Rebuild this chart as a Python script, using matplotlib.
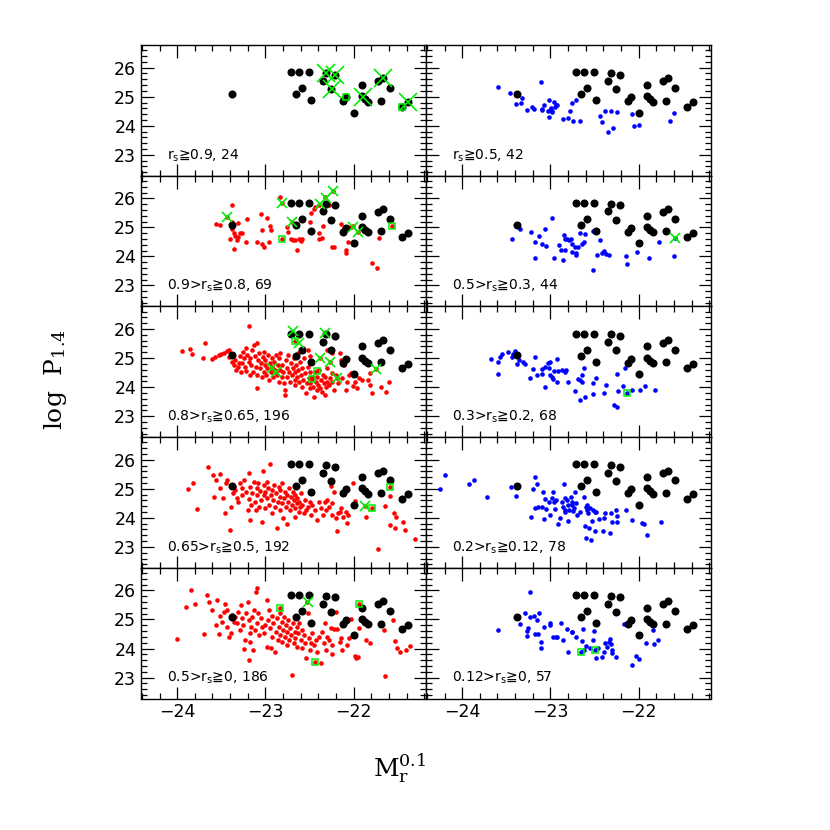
import matplotlib
matplotlib.use('Agg')
import matplotlib.pyplot as plt
from matplotlib.ticker import MultipleLocator

# reference sample (r_s >= 0.9), shown in every panel
ref_x = [-23.375, -22.71, -22.614, -22.511, -22.648, -22.583, -22.485, -22.345, -22.315, -22.208,
         -22.258, -22.117, -22.087, -21.992, -21.901, -21.909, -21.867, -21.841, -21.69, -21.72,
         -21.667, -21.591, -21.451, -21.383]
ref_y = [25.09, 25.84, 25.84, 25.84, 25.08, 25.29, 24.88, 25.55, 25.82, 25.76,
         25.27, 24.84, 24.98, 24.45, 25.40, 25.02, 24.91, 24.83, 24.86, 25.53,
         25.63, 25.29, 24.66, 24.81]

# right column (blue)
b1_x = [-23.59, -23.46, -23.39, -23.33, -23.32, -23.27, -23.21, -23.19, -23.11, -23.10, -23.09, -23.07,
        -23.02, -23.02, -23.00, -22.99, -22.98, -22.96, -22.95, -22.94, -22.92, -22.86, -22.80, -22.78,
        -22.75, -22.74, -22.71, -22.67, -22.44, -22.41, -22.38, -22.35, -22.31, -22.29, -22.24, -22.08,
        -22.05, -22.00, -21.65, -21.60, -22.985, -23.03]
b1_y = [25.32, 25.14, 24.75, 24.77, 24.95, 24.55, 24.66, 24.58, 25.52, 24.57, 24.55, 24.72,
        24.87, 24.29, 24.55, 24.60, 24.49, 24.83, 24.66, 24.72, 24.71, 24.23, 24.28, 24.50,
        24.80, 24.17, 24.87, 24.15, 24.32, 24.12, 24.51, 23.79, 24.51, 23.93, 24.47, 24.40,
        23.98, 24.04, 24.18, 24.43, 24.52, 24.52]

b2_x = [-23.44, -23.35, -23.22, -23.18, -23.17, -23.13, -23.10, -23.06, -23.05, -22.98, -22.96, -22.90,
        -22.88, -22.86, -22.85, -22.84, -22.83, -22.81, -22.79, -22.77, -22.76, -22.75, -22.72, -22.71,
        -22.71, -22.69, -22.66, -22.64, -22.62, -22.61, -22.52, -22.52, -22.50, -22.47, -22.44, -22.41,
        -22.39, -22.37, -22.34, -22.14, -22.13, -22.02, -21.88, -21.77, -21.60, -21.59]
b2_y = [24.60, 24.96, 24.83, 24.51, 23.96, 24.72, 24.43, 24.95, 24.35, 25.31, 23.93, 24.39,
        24.23, 23.88, 24.74, 24.60, 24.23, 24.59, 24.57, 24.59, 24.43, 24.14, 24.34, 24.13,
        24.05, 24.34, 24.80, 24.43, 24.51, 24.76, 23.54, 24.88, 24.84, 24.04, 24.57, 24.11,
        24.20, 24.08, 24.05, 24.00, 23.73, 24.14, 23.94, 24.51, 24.03, 24.63]

b3_x = [-23.67, -23.59, -23.59, -23.57, -23.55, -23.48, -23.44, -23.42, -23.40, -23.38, -23.36, -23.31,
        -23.29, -23.23, -23.20, -23.18, -23.15, -23.10, -23.09, -23.06, -23.06, -23.03, -23.02, -23.00,
        -23.00, -22.98, -22.97, -22.96, -22.93, -22.92, -22.91, -22.87, -22.84, -22.82, -22.80, -22.72,
        -22.69, -22.67, -22.66, -22.64, -22.64, -22.62, -22.61, -22.52, -22.52, -22.48, -22.39, -22.37,
        -22.28, -22.25, -22.25, -22.23, -22.18, -22.16, -22.13, -22.08, -21.98, -21.93, -21.81]
b3_y = [24.97, 24.85, 24.45, 25.05, 25.14, 25.20, 25.03, 25.13, 25.24, 24.79, 24.94, 24.88,
        24.80, 24.32, 24.63, 25.05, 24.43, 24.45, 24.63, 24.02, 24.71, 24.82, 24.65, 24.88,
        24.42, 24.36, 24.28, 24.56, 24.97, 24.16, 24.57, 24.59, 24.53, 24.59, 24.17, 23.86,
        24.28, 24.25, 23.56, 24.42, 24.19, 24.66, 23.65, 23.78, 24.13, 24.33, 23.81, 24.08,
        23.39, 23.32, 24.44, 23.88, 24.04, 24.66, 23.81, 23.90, 23.89, 24.05, 23.89]

b4_x = [-24.25, -24.19, -23.92, -23.87, -23.72, -23.45, -23.39, -23.22, -23.20, -23.18, -23.18, -23.15,
        -23.14, -23.10, -23.08, -23.07, -23.06, -23.05, -23.02, -23.00, -22.98, -22.97, -22.96, -22.94,
        -22.91, -22.89, -22.87, -22.85, -22.84, -22.83, -22.83, -22.81, -22.80, -22.80, -22.79, -22.77,
        -22.76, -22.74, -22.73, -22.72, -22.70, -22.67, -22.62, -22.61, -22.60, -22.60, -22.59, -22.58,
        -22.57, -22.56, -22.55, -22.54, -22.53, -22.52, -22.50, -22.49, -22.48, -22.45, -22.40, -22.39,
        -22.38, -22.33, -22.31, -22.30, -22.26, -22.25, -22.24, -22.14, -22.08, -21.96, -21.94, -21.90,
        -21.75, -22.71, -22.86, -22.95, -22.75]
b4_y = [24.99, 25.47, 25.16, 25.30, 24.73, 25.07, 24.75, 24.02, 25.00, 25.42, 24.33, 25.15,
        24.36, 24.39, 24.88, 23.97, 24.66, 24.29, 24.55, 24.10, 24.67, 24.90, 24.56, 24.61,
        23.78, 23.98, 24.56, 25.16, 24.27, 24.67, 24.21, 24.61, 24.44, 23.90, 24.27, 24.71,
        24.44, 24.24, 24.33, 24.89, 24.10, 24.21, 24.73, 23.72, 23.32, 24.39, 24.27, 24.44,
        24.16, 23.64, 24.33, 23.24, 23.89, 24.27, 24.21, 23.55, 24.21, 23.95, 23.55, 24.00,
        24.16, 23.49, 24.18, 23.84, 24.27, 24.06, 23.84, 24.27, 23.93, 23.81, 23.79, 23.40,
        23.86, 24.50, 24.39, 24.29, 24.56]

b5_x = [-23.59, -23.34, -23.29, -23.27, -23.27, -23.25, -23.23, -23.19, -23.17, -23.15, -23.14, -23.13,
        -23.11, -23.11, -23.07, -23.00, -23.00, -22.97, -22.94, -22.92, -22.88, -22.86, -22.81, -22.80,
        -22.76, -22.75, -22.71, -22.65, -22.64, -22.63, -22.62, -22.60, -22.55, -22.52, -22.51, -22.49,
        -22.48, -22.46, -22.41, -22.39, -22.38, -22.36, -22.34, -22.33, -22.31, -22.30, -22.30, -22.26,
        -22.17, -22.07, -22.03, -22.00, -21.92, -21.84, -21.83, -21.78, -23.23]
b5_y = [24.64, 24.85, 25.21, 24.61, 24.44, 24.72, 25.10, 25.13, 24.50, 24.98, 24.50, 25.21,
        24.24, 24.01, 24.75, 24.89, 24.81, 24.41, 24.39, 24.39, 24.87, 24.29, 24.69, 23.87,
        24.58, 24.56, 24.39, 23.87, 24.27, 24.66, 23.95, 24.09, 24.01, 24.29, 24.60, 23.95,
        23.69, 24.01, 23.72, 23.89, 24.18, 24.04, 24.24, 24.33, 24.15, 23.95, 23.84, 23.70,
        24.83, 23.42, 23.74, 23.63, 24.20, 24.64, 24.14, 24.29, 25.95]

# left column (red)
r2_x = [-23.56, -23.52, -23.44, -23.38, -23.38, -23.38, -23.36, -23.40, -23.36, -23.34, -23.32, -23.31,
        -23.31, -23.29, -23.27, -23.22, -23.21, -23.09, -23.05, -23.04, -23.04, -23.02, -22.98, -22.96,
        -22.95, -22.94, -22.84, -22.81, -22.81, -22.76, -22.74, -22.71, -22.70, -22.69, -22.66, -22.64,
        -22.62, -22.60, -22.58, -22.50, -22.48, -22.45, -22.44, -22.39, -22.39, -22.39, -22.36, -22.35,
        -22.32, -22.28, -22.23, -22.25, -22.22, -22.14, -22.11, -22.09, -22.09, -22.06, -22.03, -22.01,
        -21.95, -21.79, -21.73, -21.71, -21.57]
r2_y = [25.11, 25.08, 25.37, 25.77, 25.20, 24.94, 24.82, 24.59, 24.26, 24.71, 24.57, 24.68,
        25.14, 24.82, 24.80, 24.51, 25.29, 24.51, 25.45, 24.91, 24.43, 24.34, 25.31, 24.51,
        25.05, 24.91, 26.03, 25.85, 24.59, 25.00, 24.85, 24.59, 25.20, 24.58, 24.55, 24.22,
        24.59, 24.53, 24.59, 25.20, 25.48, 25.62, 25.69, 25.77, 24.80, 24.59, 24.63, 25.05,
        26.03, 25.77, 26.25, 24.34, 24.34, 25.12, 24.97, 24.22, 24.11, 24.51, 25.03, 25.05,
        24.85, 23.79, 23.60, 24.63, 25.05]

r3_x = [-23.94, -23.86, -23.83, -23.71, -23.69, -23.60, -23.57, -23.53, -23.50, -23.47, -23.44, -23.41,
        -23.41, -23.38, -23.36, -23.34, -23.33, -23.31, -23.30, -23.29, -23.28, -23.26, -23.25, -23.24,
        -23.23, -23.22, -23.22, -23.21, -23.19, -23.19, -23.18, -23.17, -23.16, -23.15, -23.14, -23.13,
        -23.12, -23.11, -23.10, -23.10, -23.09, -23.08, -23.07, -23.06, -23.05, -23.04, -23.03, -23.02,
        -23.02, -23.00, -23.00, -22.99, -22.98, -22.97, -22.96, -22.95, -22.94, -22.93, -22.92, -22.91,
        -22.90, -22.89, -22.88, -22.87, -22.86, -22.85, -22.85, -22.84, -22.83, -22.81, -22.81, -22.80,
        -22.79, -22.78, -22.78, -22.77, -22.76, -22.75, -22.74, -22.73, -22.72, -22.71, -22.70, -22.69,
        -22.68, -22.67, -22.66, -22.66, -22.65, -22.64, -22.63, -22.62, -22.61, -22.60, -22.59, -22.58,
        -22.57, -22.56, -22.55, -22.54, -22.53, -22.52, -22.51, -22.50, -22.49, -22.49, -22.47, -22.47,
        -22.46, -22.45, -22.44, -22.43, -22.42, -22.41, -22.40, -22.39, -22.38, -22.37, -22.36, -22.35,
        -22.34, -22.33, -22.32, -22.31, -22.30, -22.30, -22.28, -22.27, -22.25, -22.24, -22.22, -22.20,
        -22.18, -22.16, -22.14, -22.13, -22.11, -22.09, -22.07, -22.05, -22.03, -22.01, -21.98, -21.96,
        -21.94, -21.91, -21.84, -21.82, -21.79, -21.69, -21.63, -21.60, -21.82, -22.24, -22.30, -22.52,
        -22.57, -22.63, -22.50, -22.66, -22.41, -22.47, -22.92, -22.88, -22.19, -21.75, -22.38, -22.27]
r3_y = [25.26, 25.30, 25.13, 24.99, 25.53, 24.96, 25.03, 25.11, 25.14, 25.19, 25.24, 25.28,
        25.05, 24.88, 24.76, 24.94, 24.59, 24.71, 24.84, 25.07, 24.53, 24.82, 25.22, 24.99,
        24.71, 25.34, 24.57, 25.11, 26.10, 24.88, 24.42, 24.99, 24.76, 25.28, 24.53, 25.45,
        25.07, 24.71, 23.96, 25.51, 24.42, 24.94, 25.16, 24.65, 24.82, 24.36, 25.05, 24.53,
        25.22, 24.76, 24.94, 24.42, 24.65, 25.11, 24.25, 24.82, 24.53, 24.99, 24.71, 24.36,
        24.88, 24.59, 25.11, 24.42, 24.76, 24.19, 24.99, 24.59, 25.16, 24.36, 24.76, 24.53,
        24.13, 23.90, 23.73, 24.94, 24.65, 24.36, 25.11, 24.53, 24.19, 24.82, 24.42, 24.65,
        24.99, 24.25, 24.53, 24.08, 24.76, 24.36, 24.59, 24.19, 24.88, 24.42, 24.02, 24.65,
        24.25, 24.99, 24.48, 23.79, 24.13, 24.71, 24.31, 23.96, 24.53, 24.13, 24.82, 24.36,
        24.02, 23.67, 24.53, 24.19, 23.90, 24.36, 24.08, 24.59, 23.96, 24.25, 23.85, 24.42,
        24.13, 23.73, 24.36, 24.02, 24.19, 24.65, 24.08, 24.31, 24.48, 24.19, 23.90, 24.42,
        24.13, 25.16, 24.94, 24.31, 24.76, 23.90, 24.19, 24.42, 24.50, 24.04, 24.19, 23.96,
        24.31, 24.25, 24.25, 24.08, 23.79, 24.00, 23.85, 24.19, 24.48, 25.16, 25.28, 25.28,
        25.34, 25.16, 25.07, 25.60, 24.57, 24.27, 24.65, 24.53, 24.31, 24.62, 24.99, 24.88]

r4_x = [-23.88, -23.82, -23.77, -23.65, -23.59, -23.58, -23.56, -23.52, -23.51, -23.48, -23.46, -23.45,
        -23.43, -23.40, -23.39, -23.37, -23.36, -23.34, -23.32, -23.31, -23.29, -23.27, -23.26, -23.24,
        -23.22, -23.20, -23.19, -23.19, -23.17, -23.17, -23.16, -23.15, -23.13, -23.12, -23.11, -23.10,
        -23.09, -23.08, -23.07, -23.06, -23.05, -23.04, -23.03, -23.02, -23.02, -23.00, -23.00, -22.98,
        -22.98, -22.97, -22.96, -22.95, -22.94, -22.93, -22.92, -22.91, -22.90, -22.89, -22.88, -22.87,
        -22.86, -22.85, -22.84, -22.83, -22.83, -22.81, -22.81, -22.80, -22.79, -22.78, -22.77, -22.76,
        -22.75, -22.74, -22.73, -22.72, -22.71, -22.70, -22.69, -22.68, -22.67, -22.66, -22.66, -22.64,
        -22.64, -22.62, -22.62, -22.61, -22.60, -22.58, -22.56, -22.55, -22.54, -22.52, -22.50, -22.48,
        -22.47, -22.44, -22.41, -22.39, -22.37, -22.35, -22.33, -22.31, -22.30, -22.28, -22.26, -22.25,
        -22.24, -22.22, -22.20, -22.19, -22.18, -22.16, -22.14, -22.12, -22.09, -22.06, -22.01, -21.99,
        -21.86, -21.79, -21.72, -21.65, -21.59, -21.59, -21.54, -21.52, -21.53, -21.44, -21.42, -21.30,
        -21.59, -21.87, -22.07]
r4_y = [24.98, 25.19, 24.29, 25.76, 25.47, 24.73, 25.30, 25.50, 25.02, 24.67, 24.18, 25.19,
        25.30, 23.58, 24.39, 24.84, 25.07, 24.95, 24.67, 24.56, 25.19, 24.79, 25.02, 25.30,
        24.90, 24.27, 25.53, 24.64, 23.93, 25.07, 24.44, 24.84, 25.24, 24.56, 24.27, 25.02,
        24.79, 25.19, 24.39, 24.92, 24.61, 23.87, 25.61, 24.79, 25.13, 24.33, 24.90, 24.67,
        25.24, 25.02, 24.44, 25.85, 24.79, 24.16, 24.96, 24.61, 25.13, 24.39, 24.84, 23.64,
        24.56, 25.07, 24.27, 24.73, 24.96, 24.50, 25.19, 23.98, 24.67, 24.90, 24.39, 23.79,
        24.79, 24.56, 25.02, 24.27, 24.73, 24.44, 24.90, 24.61, 24.02, 24.33, 24.79, 24.50,
        24.67, 24.21, 24.56, 24.39, 24.84, 24.44, 24.16, 24.61, 24.27, 24.39, 24.56, 24.10,
        24.44, 24.27, 23.93, 24.56, 24.33, 24.10, 24.56, 24.27, 24.61, 24.39, 25.10, 24.10,
        24.50, 24.90, 23.98, 23.53, 24.16, 24.21, 24.33, 24.04, 24.21, 24.10, 25.21, 24.59,
        24.04, 24.33, 22.92, 24.41, 23.76, 24.75, 24.16, 24.04, 23.64, 23.87, 23.58, 23.26,
        25.05, 24.42, 23.81]

r5_x = [-24.00, -23.90, -23.84, -23.80, -23.70, -23.66, -23.64, -23.61, -23.56, -23.55, -23.53, -23.51,
        -23.49, -23.47, -23.46, -23.44, -23.43, -23.41, -23.39, -23.38, -23.36, -23.34, -23.32, -23.31,
        -23.29, -23.28, -23.27, -23.25, -23.24, -23.23, -23.22, -23.20, -23.19, -23.19, -23.18, -23.17,
        -23.16, -23.15, -23.14, -23.13, -23.12, -23.11, -23.10, -23.09, -23.08, -23.07, -23.05, -23.04,
        -23.02, -23.00, -22.98, -22.98, -22.97, -22.96, -22.95, -22.94, -22.93, -22.92, -22.91, -22.89,
        -22.88, -22.87, -22.86, -22.85, -22.84, -22.83, -22.83, -22.81, -22.81, -22.80, -22.79, -22.78,
        -22.77, -22.76, -22.75, -22.74, -22.73, -22.72, -22.71, -22.70, -22.69, -22.68, -22.67, -22.66,
        -22.66, -22.64, -22.64, -22.63, -22.62, -22.60, -22.59, -22.58, -22.56, -22.55, -22.54, -22.53,
        -22.52, -22.51, -22.50, -22.48, -22.47, -22.45, -22.44, -22.43, -22.41, -22.39, -22.37, -22.36,
        -22.34, -22.32, -22.31, -22.30, -22.28, -22.26, -22.25, -22.24, -22.22, -22.20, -22.19, -22.16,
        -22.14, -22.13, -22.11, -22.07, -22.05, -22.03, -21.99, -21.97, -21.95, -21.94, -21.94, -21.86,
        -21.82, -21.66, -21.64, -21.55, -21.53, -21.51, -21.48, -21.41, -21.36]
r5_y = [24.32, 25.44, 26.03, 25.55, 24.50, 25.84, 25.61, 25.32, 24.81, 25.67, 24.50, 25.12,
        24.92, 25.27, 25.55, 24.75, 25.33, 24.41, 24.52, 25.15, 24.92, 25.10, 24.87, 25.27,
        24.64, 25.50, 25.04, 24.81, 23.97, 24.29, 25.21, 25.61, 23.61, 24.98, 24.52, 24.24,
        24.75, 25.10, 23.95, 25.33, 24.64, 25.95, 26.07, 24.87, 25.21, 24.47, 25.04, 24.75,
        24.52, 24.81, 25.67, 24.06, 24.98, 25.33, 24.70, 24.01, 25.12, 24.41, 24.87, 23.89,
        24.58, 25.04, 24.29, 24.75, 25.21, 25.38, 24.47, 24.92, 24.24, 24.64, 25.10, 24.41,
        24.81, 24.12, 24.58, 24.98, 24.29, 24.70, 24.47, 23.09, 24.87, 24.18, 24.58, 25.04,
        24.35, 24.75, 24.06, 24.52, 24.87, 24.29, 24.64, 24.01, 24.47, 24.18, 23.69, 25.61,
        25.21, 24.35, 23.95, 24.18, 24.52, 24.12, 23.54, 24.29, 23.89, 24.41, 23.51, 24.58,
        24.18, 24.89, 23.95, 24.41, 24.29, 24.70, 23.80, 24.12, 24.66, 25.27, 24.66, 24.24,
        24.35, 23.95, 24.89, 24.12, 24.35, 25.00, 23.74, 23.69, 23.72, 25.52, 24.70, 24.29,
        24.18, 24.64, 23.06, 24.98, 24.26, 24.01, 23.89, 23.95, 24.09]

# green markers per panel (crosses, squares)
gx1_x = [-22.315, -22.21, -22.25, -21.898, -21.67, -21.383]
gx1_y = [25.82, 25.76, 25.27, 25.00, 25.63, 24.81]
gs1_x = [-22.087, -21.451]
gs1_y = [24.98, 24.66]
gx2_x = [-23.44, -22.81, -22.70, -22.38, -22.31, -22.23, -22.01, -21.95]
gx2_y = [25.37, 25.85, 25.20, 25.81, 26.00, 26.25, 25.03, 24.85]
gs2_x = [-22.81, -21.57]
gs2_y = [24.59, 25.05]
gx3_x = [-22.69, -22.62, -22.32, -22.38, -22.27, -22.92, -22.88, -22.19, -21.75]
gx3_y = [25.94, 25.53, 25.85, 24.99, 24.88, 24.65, 24.53, 24.31, 24.62]
gs3_x = [-22.66, -22.41, -22.47]
gs3_y = [25.60, 24.57, 24.27]
gx4_x = [-21.87]
gx4_y = [24.42]
gs4_x = [-21.79, -21.59]
gs4_y = [24.33, 25.05]
gx5_x = [-22.52]
gx5_y = [25.61]
gs5_x = [-22.83, -22.44, -21.94]
gs5_y = [25.38, 23.54, 25.52]
gxb2_x = [-21.59]
gxb2_y = [24.63]
gsb3_x = [-22.13]
gsb3_y = [23.81]
gsb5_x = [-22.65, -22.49]
gsb5_y = [23.87, 23.95]

labels_left = ["r$_{\\rm s}$\u22670.9, 24", "0.9>r$_{\\rm s}$\u22670.8, 69", "0.8>r$_{\\rm s}$\u22670.65, 196",
               "0.65>r$_{\\rm s}$\u22670.5, 192", "0.5>r$_{\\rm s}$\u22670, 186"]
labels_right = ["r$_{\\rm s}$\u22670.5, 42", "0.5>r$_{\\rm s}$\u22670.3, 44", "0.3>r$_{\\rm s}$\u22670.2, 68",
                "0.2>r$_{\\rm s}$\u22670.12, 78", "0.12>r$_{\\rm s}$\u22670, 57"]

RED = '#ff0000'
BLUE = '#0000ff'
GREEN = '#00ee00'

fig = plt.figure(figsize=(8.3, 8.3), dpi=100)
grid = fig.add_gridspec(5, 2, left=141/830, right=711/830, top=1-45/830, bottom=1-698.5/830,
                        wspace=0, hspace=0)

left_data = [(None, None), (r2_x, r2_y), (r3_x, r3_y), (r4_x, r4_y), (r5_x, r5_y)]
right_data = [(b1_x, b1_y), (b2_x, b2_y), (b3_x, b3_y), (b4_x, b4_y), (b5_x, b5_y)]

axes = {}
for row in range(5):
    for col in range(2):
        ax = fig.add_subplot(grid[row, col])
        axes[(row, col)] = ax
        ax.set_xlim(-24.41, -21.18)
        ax.set_ylim(22.28, 26.78)
        ax.xaxis.set_major_locator(MultipleLocator(1))
        ax.xaxis.set_minor_locator(MultipleLocator(0.2))
        ax.yaxis.set_major_locator(MultipleLocator(1))
        ax.yaxis.set_minor_locator(MultipleLocator(0.2))
        ax.tick_params(which='both', direction='in', top=True, right=True, width=0.9)
        ax.tick_params(which='major', length=9)
        ax.tick_params(which='minor', length=4.5)
        ax.tick_params(labelsize=12.5)
        for s in ax.spines.values():
            s.set_linewidth(1.0)
        if col == 1:
            ax.tick_params(labelleft=False)
        if row < 4:
            ax.tick_params(labelbottom=False)
        if col == 0:
            dx, dy = left_data[row]
            color = RED
            label = labels_left[row]
        else:
            dx, dy = right_data[row]
            color = BLUE
            label = labels_right[row]
        if dx:
            ax.plot(dx, dy, 'o', color=color, ms=3.3, mew=0, zorder=2)
        ax.plot(ref_x, ref_y, 'o', color='black', ms=5.8, mew=0, zorder=3)
        ax.text(0.09, 0.155, label, transform=ax.transAxes, fontsize=10, va='center', ha='left',
                family=['DejaVu Sans', 'Noto Sans CJK SC'])

def crosses(ax, x, y, ms):
    ax.plot(x, y, 'x', color=GREEN, ms=ms, mew=1.2, zorder=4)

def squares(ax, x, y):
    ax.plot(x, y, 's', mfc='none', mec=GREEN, ms=5, mew=1.1, zorder=4)

crosses(axes[(0, 0)], gx1_x, gx1_y, 13)
squares(axes[(0, 0)], gs1_x, gs1_y)
crosses(axes[(1, 0)], gx2_x, gx2_y, 7.5)
squares(axes[(1, 0)], gs2_x, gs2_y)
crosses(axes[(2, 0)], gx3_x, gx3_y, 7.5)
squares(axes[(2, 0)], gs3_x, gs3_y)
crosses(axes[(3, 0)], gx4_x, gx4_y, 7.5)
squares(axes[(3, 0)], gs4_x, gs4_y)
crosses(axes[(4, 0)], gx5_x, gx5_y, 7.5)
squares(axes[(4, 0)], gs5_x, gs5_y)
crosses(axes[(1, 1)], gxb2_x, gxb2_y, 7.5)
squares(axes[(2, 1)], gsb3_x, gsb3_y)
squares(axes[(4, 1)], gsb5_x, gsb5_y)

plt.rcParams['mathtext.fontset'] = 'dejavuserif'
fig.text(400/830, 1-768/830, r'$\mathrm{M_r^{0.1}}$', fontsize=18, ha='center', va='center',
         family='DejaVu Serif')
fig.text(55/830, 1-380/830, r'$\mathrm{log\ \ P_{1.4}}$', fontsize=18, ha='center', va='center',
         rotation=90, family='DejaVu Serif')

fig.savefig('out.png', dpi=100)
